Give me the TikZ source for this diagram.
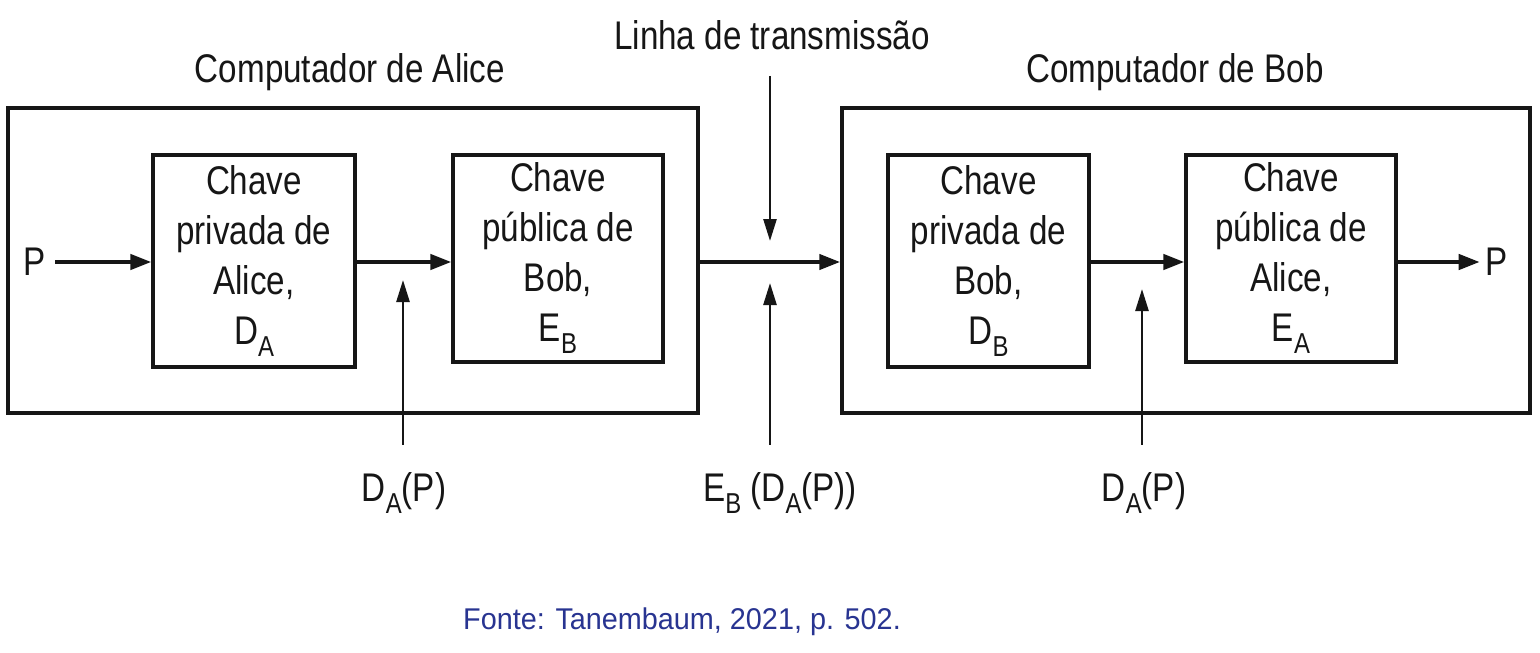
\documentclass[tikz,border=0pt]{standalone}
\usepackage{fontspec}
\setmainfont{Liberation Sans}[FakeStretch=0.83]
\newfontfamily\fontefont{Liberation Sans}[FakeStretch=0.96]
\usetikzlibrary{arrows.meta}
\definecolor{ink}{RGB}{22,22,22}
\definecolor{fonteblue}{RGB}{40,52,145}
\newcommand\sub[1]{\raisebox{-0.3em}{\scalebox{0.72}{#1}}}
\begin{document}
\begin{tikzpicture}[x=1pt,y=-1pt,
  outer/.style={draw=ink, line width=3.4pt, minimum width=690pt, minimum height=305pt, inner sep=0pt},
  inner/.style={draw=ink, line width=3.2pt, minimum width=202pt, minimum height=212pt, inner sep=0pt, align=center, text=ink, font=\fontsize{40}{50}\selectfont},
  lbl/.style={text=ink, font=\fontsize{40}{48}\selectfont, inner sep=0pt},
  arr/.style={draw=ink, line width=4.2pt, -{Triangle[length=21pt,width=15pt]}},
  varr/.style={draw=ink, line width=2.5pt, -{Triangle[length=22pt,width=13pt]}}]
\useasboundingbox[fill=white] (0,0) rectangle (1540,653);

% outer computers
\node[outer] (alice) at (353,260.5) {};
\node[outer, minimum width=688pt] (bob) at (1186,260.5) {};

% inner boxes
\node[inner] (a1) at (254,261) {Chave\\privada de\\Alice,\\D\sub{A}};
\node[inner, minimum width=210pt, minimum height=207pt] (a2) at (558,258.5) {Chave\\pública de\\Bob,\\E\sub{B}};
\node[inner, minimum width=201pt] (b1) at (988.5,261) {Chave\\privada de\\Bob,\\D\sub{B}};
\node[inner, minimum width=210pt, minimum height=207pt] (b2) at (1291,258.5) {Chave\\pública de\\Alice,\\E\sub{A}};

% titles
\node[lbl] (tA) at (350,72) {Computador de Alice};
\node[lbl] (linha) at (772,35) {Linha de transmissão};
\node[lbl] (tB) at (1175,72) {Computador de Bob};

% input / output
\node[lbl] (pin) at (35,262) {P};
\node[lbl] (pout) at (1497,262) {P};

% horizontal flow
\draw[arr] ([xshift=9pt]pin.east) -- (a1.west |- pin);
\draw[arr] (a1.east |- pin) -- (a2.west |- pin);
\draw[arr] (alice.east |- pin) -- (bob.west |- pin);
\draw[arr] (b1.east |- pin) -- (b2.west |- pin);
\draw[arr] (b2.east |- pin) -- ([xshift=-6pt]pout.west);

% bottom labels
\node[lbl, anchor=base] (d1) at (404,501) {D\sub{A}(P)};
\node[lbl, anchor=base] (eb) at (780,501) {E\sub{B} (D\sub{A}(P))};
\node[lbl, anchor=base] (d2) at (1144,501) {D\sub{A}(P)};

% arrow targets
\coordinate (v1) at (403,280);
\coordinate (vt) at (770,241);
\coordinate (vb) at (770,283);
\coordinate (v2) at (1142,289);

% vertical arrows
\draw[varr, shorten <=27pt] (v1 |- d1.north) -- (v1);
\draw[varr, shorten <=27pt] (vb |- eb.north) -- (vb);
\draw[varr, shorten <=27pt] (v2 |- d2.north) -- (v2);
\draw[varr, shorten <=26pt] (vt |- linha.south) -- (vt);

% source
\node[font=\fontefont\fontsize{30}{36}\selectfont, text=fonteblue, inner sep=0pt] (fonte) at (682,622) {Fonte: Tanembaum, 2021, p. 502.};
\end{tikzpicture}
\end{document}
